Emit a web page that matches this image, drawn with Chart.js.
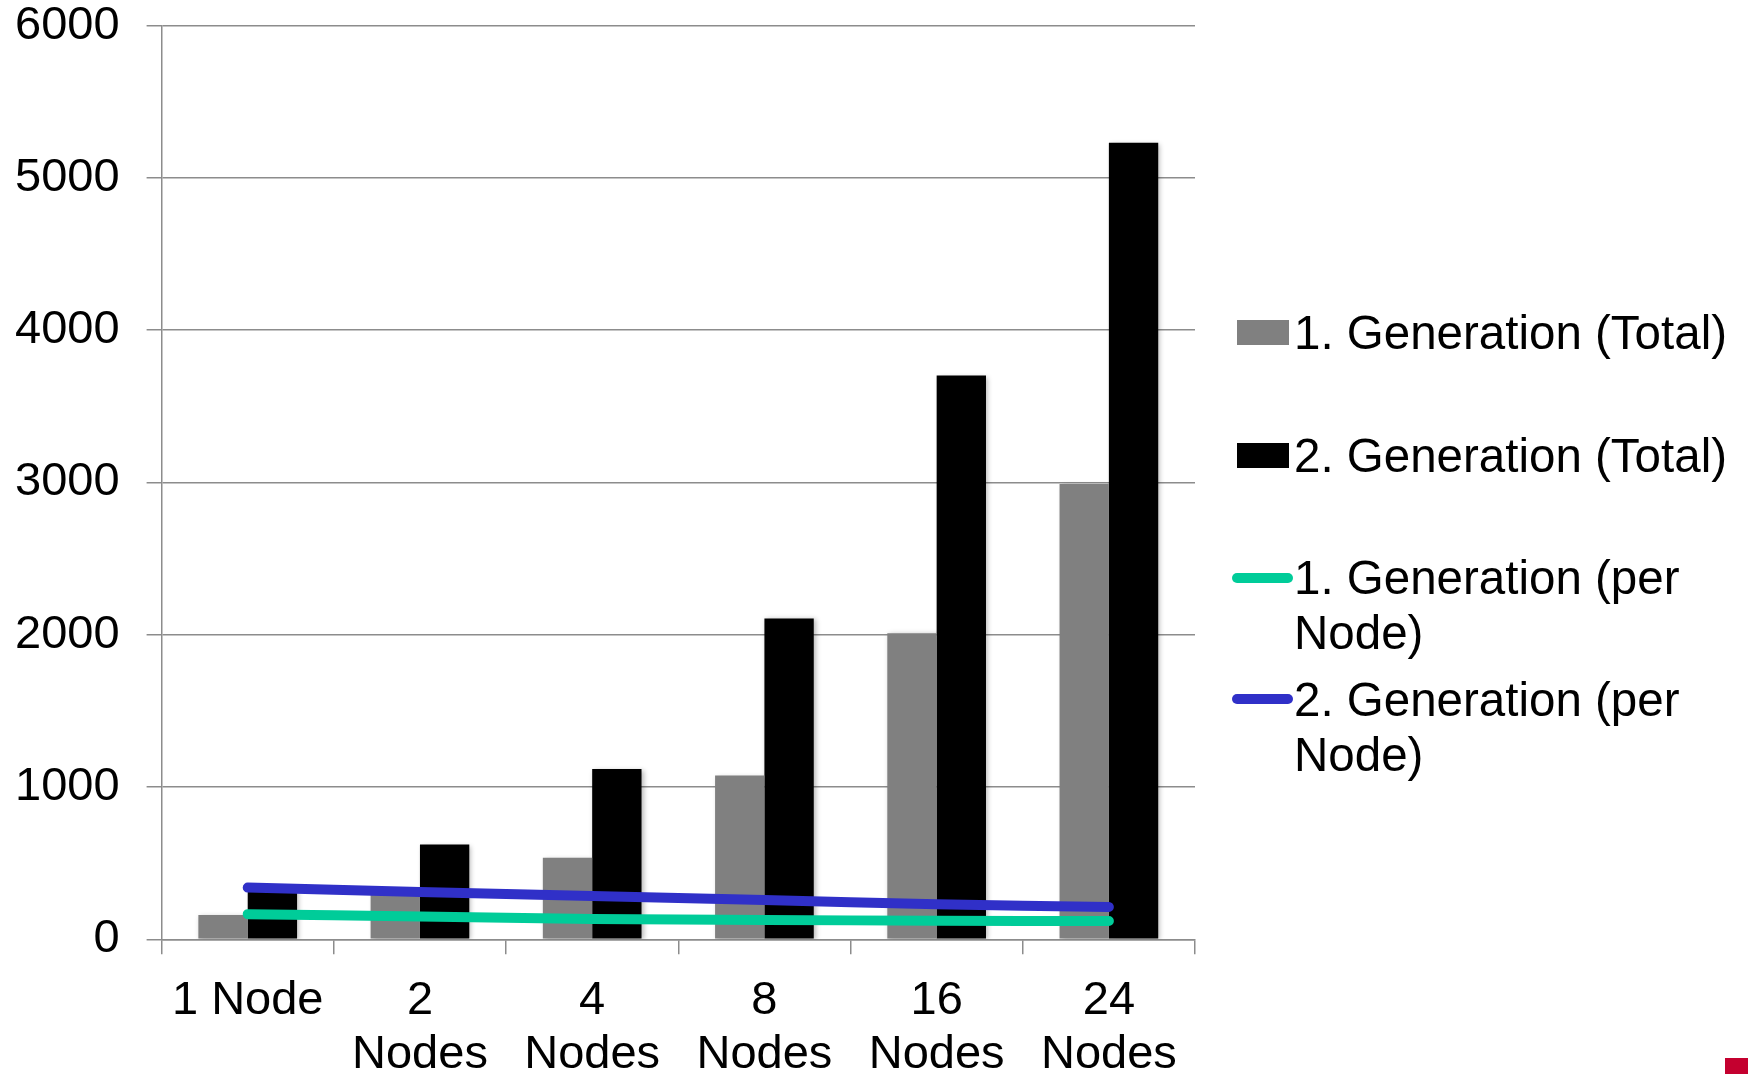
<!DOCTYPE html>
<html>
<head>
<meta charset="utf-8">
<script src="https://cdn.jsdelivr.net/npm/chart.js@4/dist/chart.umd.min.js"></script>
<style>
  body { margin: 0; background: #fff; }
  #wrap { position: relative; width: 1748px; height: 1074px; font-family: "Liberation Sans", Arial, sans-serif; }
  #legend { position: absolute; left: 0; top: 0; }
  .item { position: absolute; left: 1232px; width: 516px; }
  .item .txt { position: absolute; left: 62px; width: 455px; font-size: 47.5px; line-height: 55px; color: #000; }
  .item .mark { position: absolute; }
  #corner { position: absolute; left: 1725px; top: 1058px; width: 23px; height: 16px; background: #c4002f; }
</style>
</head>
<body>
<div id="wrap">
  <canvas id="myChart" width="1748" height="1074"></canvas>
  <div id="legend"></div>
  <div id="corner"></div>
</div>
<script>
const categories = ["1 Node", ["2", "Nodes"], ["4", "Nodes"], ["8", "Nodes"], ["16", "Nodes"], ["24", "Nodes"]];
const gen1Total = [160, 300, 535, 1075, 2010, 2990];
const gen2Total = [335, 622, 1119, 2107, 3702, 5230];
const gen1PerNode = [165, 150, 133, 127, 122, 120];
const gen2PerNode = [340, 310, 284, 258, 230, 212];
const yTicks = [0, 1000, 2000, 3000, 4000, 5000, 6000];

const gridGray = "#8c8c8c";

// soft drop shadow under the bars only
const barShadow = {
  id: "barShadow",
  beforeDatasetDraw(chart, args) {
    if (args.meta.type !== "bar") return;
    const ctx = chart.ctx;
    ctx.save();
    ctx.shadowColor = "rgba(0,0,0,0.28)";
    ctx.shadowBlur = 5;
    ctx.shadowOffsetX = 2;
    ctx.shadowOffsetY = 1;
  },
  afterDatasetDraw(chart, args) {
    if (args.meta.type !== "bar") return;
    chart.ctx.restore();
  }
};

const data = {
  labels: categories,
  datasets: [
    {
      type: "bar",
      label: "1. Generation (Total)",
      data: gen1Total,
      backgroundColor: "#808080",
      borderWidth: 0,
      barPercentage: 1,
      categoryPercentage: 0.573,
      order: 2
    },
    {
      type: "bar",
      label: "2. Generation (Total)",
      data: gen2Total,
      backgroundColor: "#000000",
      borderWidth: 0,
      barPercentage: 1,
      categoryPercentage: 0.573,
      order: 2
    },
    {
      type: "line",
      label: "1. Generation (per Node)",
      data: gen1PerNode,
      borderColor: "#00cc99",
      backgroundColor: "#00cc99",
      borderWidth: 10,
      borderCapStyle: "round",
      pointRadius: 0,
      tension: 0.3,
      fill: false,
      order: 1
    },
    {
      type: "line",
      label: "2. Generation (per Node)",
      data: gen2PerNode,
      borderColor: "#3030c8",
      backgroundColor: "#3030c8",
      borderWidth: 10,
      borderCapStyle: "round",
      pointRadius: 0,
      tension: 0.3,
      fill: false,
      order: 1
    }
  ]
};

const ctx = document.getElementById("myChart").getContext("2d");
const myChart = new Chart(ctx, {
  type: "bar",
  data: data,
  plugins: [barShadow],
  options: {
    responsive: false,
    animation: false,
    layout: { padding: { top: 25.6, right: 553, bottom: 0, left: 0 } },
    plugins: {
      legend: { display: false },
      tooltip: { enabled: false }
    },
    scales: {
      x: {
        offset: true,
        grid: {
          offset: true,
          drawOnChartArea: false,
          drawTicks: true,
          tickLength: 15,
          color: gridGray,
          lineWidth: 1.5
        },
        border: { display: true, color: gridGray, width: 1.5 },
        ticks: {
          autoSkip: false,
          maxRotation: 0,
          padding: 19,
          color: "#000",
          font: { family: "'Liberation Sans', Arial, sans-serif", size: 47, lineHeight: 1.16 }
        },
        afterFit(scale) { scale.height = 134.7; }
      },
      y: {
        min: 0,
        max: 6000,
        afterBuildTicks(scale) { scale.ticks = yTicks.map(v => ({ value: v })); },
        grid: {
          drawTicks: true,
          tickLength: 15,
          color: gridGray,
          lineWidth: 1.5
        },
        border: { display: true, color: gridGray, width: 1.5 },
        ticks: {
          padding: 27,
          color: "#000",
          font: { family: "'Liberation Sans', Arial, sans-serif", size: 47, lineHeight: 1 },
          callback: v => String(v)
        },
        afterFit(scale) {
          scale.width = 161.6;
          // keep the plot top at the layout padding
          scale.paddingTop = 0;
          scale.paddingBottom = 0;
        }
      }
    }
  }
});

// legend built from the datasets, text wraps on two lines when needed
function buildLegend(chart) {
  const box = document.getElementById("legend");
  const firstLine = [332, 455, 577.5, 699];
  chart.data.datasets.forEach((ds, i) => {
    const item = document.createElement("div");
    item.className = "item";
    item.style.top = firstLine[i] + "px";
    const mark = document.createElement("div");
    mark.className = "mark";
    if (ds.type === "bar") {
      mark.style.left = "5px";
      mark.style.top = "-12px";
      mark.style.width = "52px";
      mark.style.height = "25px";
      mark.style.background = ds.backgroundColor;
    } else {
      mark.style.left = "0px";
      mark.style.top = "-5px";
      mark.style.width = "61px";
      mark.style.height = "10px";
      mark.style.borderRadius = "5px";
      mark.style.background = ds.borderColor;
    }
    const txt = document.createElement("div");
    txt.className = "txt";
    txt.style.top = "-27.5px";
    txt.textContent = ds.label;
    item.appendChild(mark);
    item.appendChild(txt);
    box.appendChild(item);
  });
}
buildLegend(myChart);
</script>
</body>
</html>
